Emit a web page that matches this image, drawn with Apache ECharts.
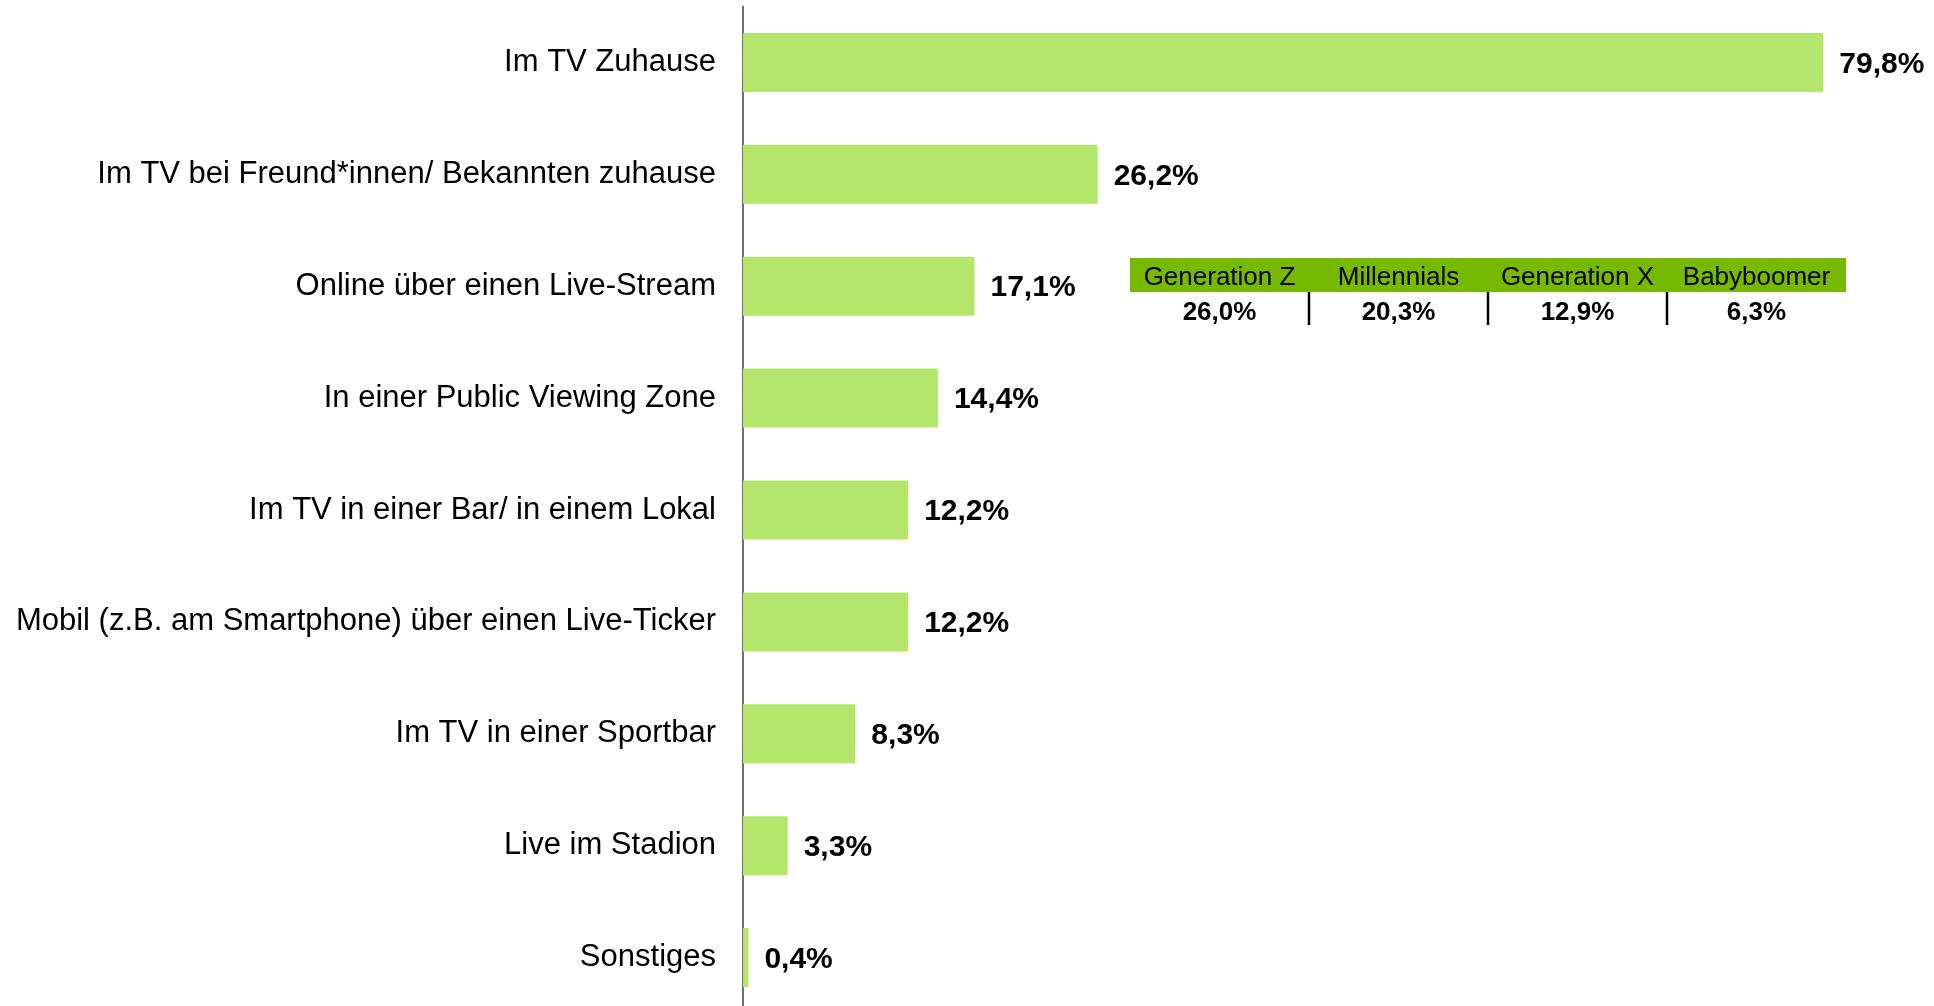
<!DOCTYPE html>
<html>
<head>
    <meta charset="utf-8">
    <title>Wo schauen Sie die Spiele?</title>
    <style>
        body {
            margin: 0;
            padding: 0;
            background-color: #ffffff;
            overflow: hidden;
        }
        /* chart runs a little past the bottom edge, like the original */
        #chart {
            width: 1934px;
            height: 1030px;
        }
    </style>
</head>
<body>
    <div id="chart"></div>

    <script src="https://cdn.jsdelivr.net/npm/echarts@6.0.0/dist/echarts.min.js"></script>
    <script>
        // Data
        const categories = [
            'Im TV Zuhause',
            'Im TV bei Freund*innen/ Bekannten zuhause',
            'Online über einen Live-Stream',
            'In einer Public Viewing Zone',
            'Im TV in einer Bar/ in einem Lokal',
            'Mobil (z.B. am Smartphone) über einen Live-Ticker',
            'Im TV in einer Sportbar',
            'Live im Stadion',
            'Sonstiges'
        ];
        const values = [79.8, 26.2, 17.1, 14.4, 12.2, 12.2, 8.3, 3.3, 0.4];

        // Inset table (Online über einen Live-Stream, nach Generation)
        const generations = ['Generation Z', 'Millennials', 'Generation X', 'Babyboomer'];
        const generationValues = [26.0, 20.3, 12.9, 6.3];

        const fontFamily = '"Liberation Sans", Arial, sans-serif';
        const barColor = '#b3e66a';
        const headerColor = '#77b800';

        function fmt(v) {
            return v.toFixed(1).replace('.', ',') + '%';
        }

        // inset table layout
        const tableLeft = 1130;
        const colWidth = 179;
        const headerTop = 258;
        const headerHeight = 34;

        const graphics = [{
            type: 'rect',
            shape: { x: tableLeft, y: headerTop, width: colWidth * generations.length, height: headerHeight },
            style: { fill: headerColor }
        }];
        generations.forEach((g, i) => {
            const cx = tableLeft + colWidth * i + colWidth / 2;
            graphics.push({
                type: 'text',
                x: cx,
                y: headerTop + headerHeight / 2 + 3,
                style: {
                    text: g,
                    fill: '#000',
                    font: '26px ' + fontFamily,
                    align: 'center',
                    verticalAlign: 'middle'
                }
            });
            graphics.push({
                type: 'text',
                x: cx,
                y: headerTop + headerHeight + 21,
                style: {
                    text: fmt(generationValues[i]),
                    fill: '#000',
                    font: 'bold 26px ' + fontFamily,
                    align: 'center',
                    verticalAlign: 'middle'
                }
            });
            if (i > 0) {
                graphics.push({
                    type: 'line',
                    shape: {
                        x1: tableLeft + colWidth * i, y1: headerTop + headerHeight,
                        x2: tableLeft + colWidth * i, y2: headerTop + headerHeight + 33
                    },
                    style: { stroke: '#000', lineWidth: 2.5 }
                });
            }
        });

        const chart = echarts.init(document.getElementById('chart'));
        const option = {
            animation: false,
            grid: {
                left: 743,
                top: 6.5,
                width: 1083,
                height: 1007,
                containLabel: false,
                outerBoundsMode: 'none'
            },
            xAxis: {
                type: 'value',
                min: 0,
                max: 80,
                show: false
            },
            yAxis: {
                type: 'category',
                data: categories,
                inverse: true,
                axisLine: {
                    show: true,
                    lineStyle: { color: '#404040', width: 1.5 }
                },
                axisTick: { show: false },
                splitLine: { show: false },
                axisLabel: {
                    fontSize: 31,
                    fontFamily: fontFamily,
                    color: '#000',
                    margin: 27,
                    padding: [4, 0, 0, 0]
                }
            },
            series: [{
                type: 'bar',
                data: values,
                barWidth: 59,
                itemStyle: { color: barColor },
                label: {
                    show: true,
                    position: 'right',
                    distance: 16,
                    offset: [0, 2],
                    fontSize: 30,
                    fontWeight: 'bold',
                    fontFamily: fontFamily,
                    color: '#000',
                    formatter: (p) => fmt(p.value)
                }
            }],
            graphic: graphics
        };
        chart.setOption(option);
    </script>
</body>
</html>
